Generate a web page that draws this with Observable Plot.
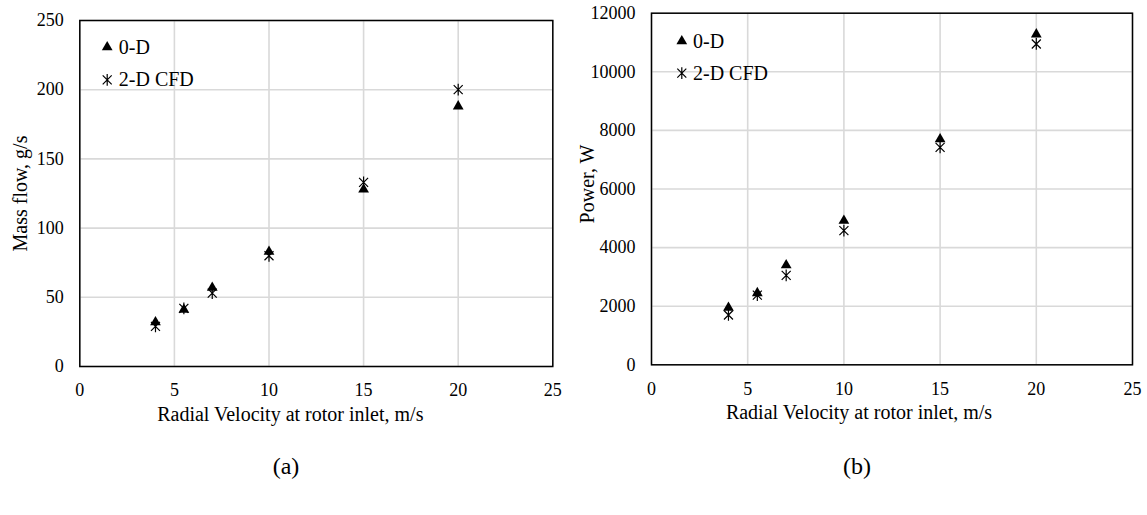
<!DOCTYPE html>
<html>
<head>
<meta charset="utf-8">
<script src="https://cdn.jsdelivr.net/npm/d3@7"></script>
<script src="https://cdn.jsdelivr.net/npm/@observablehq/plot@0.6"></script>
<style>
  html, body { margin: 0; padding: 0; background: #fff; }
  #wrap { position: relative; width: 1147px; height: 515px; font-family: "Liberation Serif", "Times New Roman", serif; }
  .panel { position: absolute; top: 0; }
  .cap { position: absolute; font-size: 24px; color: #000; transform: translate(-50%, -50%); }
</style>
</head>
<body>
<div id="wrap">
  <div id="pa" class="panel" style="left:0px"></div>
  <div id="pb" class="panel" style="left:575px"></div>
  <div class="cap" style="left:286px; top:466px">(a)</div>
  <div class="cap" style="left:857px; top:466px">(b)</div>
</div>
<script>
const velocity = [4, 5.5, 7, 10, 15, 20];
const massFlow0D = [32, 41, 57, 83, 128, 188];
const massFlowCFD = [29, 42, 53, 80, 133, 200];
const power0D = [1950, 2450, 3400, 4920, 7700, 11280];
const powerCFD = [1700, 2380, 3050, 4580, 7420, 10950];
const xTicks = [0, 5, 10, 15, 20, 25];
const massTicks = [0, 50, 100, 150, 200, 250];
const powerTicks = [0, 2000, 4000, 6000, 8000, 10000, 12000];
const seriesNames = ["0-D", "2-D CFD"];
const xLabel = "Radial Velocity at rotor inlet, m/s";

const FONT = '"Liberation Serif", "Times New Roman", serif';

// custom "ж"-like asterisk marker (vertical bar + X)
const starSymbol = {
  draw(ctx, size) {
    const r = Math.sqrt(size / Math.PI);
    ctx.moveTo(0, -1.3 * r); ctx.lineTo(0, 1.3 * r);
    ctx.moveTo(-r, -r); ctx.lineTo(r, r);
    ctx.moveTo(-r, r); ctx.lineTo(r, -r);
  }
};

function rows(ys) { return velocity.map((v, i) => ({x: v, y: ys[i]})); }

function panel(o) {
  return Plot.plot({
    width: o.width, height: o.height,
    marginLeft: o.m.l, marginRight: o.m.r, marginTop: o.m.t, marginBottom: o.m.b,
    style: {fontFamily: FONT, fontSize: "18px", color: "#000", background: "#fff", overflow: "visible"},
    x: {domain: [0, 25]},
    y: {domain: [0, o.yMax]},
    marks: [
      Plot.gridX(xTicks, {stroke: "#d9d9d9", strokeOpacity: 1, strokeWidth: 1.6}),
      Plot.gridY(o.yTicks, {stroke: "#d9d9d9", strokeOpacity: 1, strokeWidth: 1.6}),
      Plot.frame({stroke: "#000", strokeWidth: 1.5}),
      Plot.axisX({ticks: xTicks, tickSize: 0, tickPadding: 17, fontSize: 18, label: null}),
      Plot.axisY({ticks: o.yTicks, tickSize: 0, tickPadding: 16, tickFormat: d3.format("d"), fontSize: 18, label: null}),
      Plot.text([xLabel], {frameAnchor: "bottom", dx: o.xLabelDx, dy: 48, text: d => d, lineAnchor: "middle", fontSize: 20}),
      Plot.text([o.yLabel], {frameAnchor: "left", dx: o.yLabelDx, dy: o.yLabelDy, rotate: -90, text: d => d, textAnchor: "middle", lineAnchor: "middle", fontSize: 20}),
      Plot.dot(rows(o.y0D), {x: "x", y: "y", symbol: "triangle", r: 4, fill: "#000", stroke: "none"}),
      Plot.dot(rows(o.yCFD), {x: "x", y: "y", symbol: starSymbol, r: 4.5, stroke: "#000", strokeWidth: 1.2}),
      Plot.dot([0], {frameAnchor: "top-left", dx: o.leg.dx, dy: o.leg.dy1, symbol: "triangle", r: 4, fill: "#000", stroke: "none"}),
      Plot.dot([0], {frameAnchor: "top-left", dx: o.leg.dx, dy: o.leg.dy2, symbol: starSymbol, r: 4.5, stroke: "#000", strokeWidth: 1.2}),
      Plot.text([seriesNames[0]], {frameAnchor: "top-left", dx: o.leg.tx, dy: o.leg.dy1, text: d => d, textAnchor: "start", lineAnchor: "middle", fontSize: 20}),
      Plot.text([seriesNames[1]], {frameAnchor: "top-left", dx: o.leg.tx, dy: o.leg.dy2, text: d => d, textAnchor: "start", lineAnchor: "middle", fontSize: 20})
    ]
  });
}

document.getElementById("pa").appendChild(panel({
  width: 575, height: 440,
  m: {l: 79.3, r: 22.7, t: 20, b: 74},
  y0D: massFlow0D, yCFD: massFlowCFD, yTicks: massTicks, yMax: 250,
  yLabel: "Mass flow, g/s", yLabelDx: -59, yLabelDy: 0, xLabelDx: -26,
  leg: {dx: 27.4, tx: 39, dy1: 26.7, dy2: 59.3}
}));
document.getElementById("pb").appendChild(panel({
  width: 572, height: 440,
  m: {l: 76, r: 15, t: 12.7, b: 75.7},
  y0D: power0D, yCFD: powerCFD, yTicks: powerTicks, yMax: 12000,
  yLabel: "Power, W", yLabelDx: -64, yLabelDy: -5, xLabelDx: -33,
  leg: {dx: 30.3, tx: 41.5, dy1: 28, dy2: 60}
}));
</script>
</body>
</html>
